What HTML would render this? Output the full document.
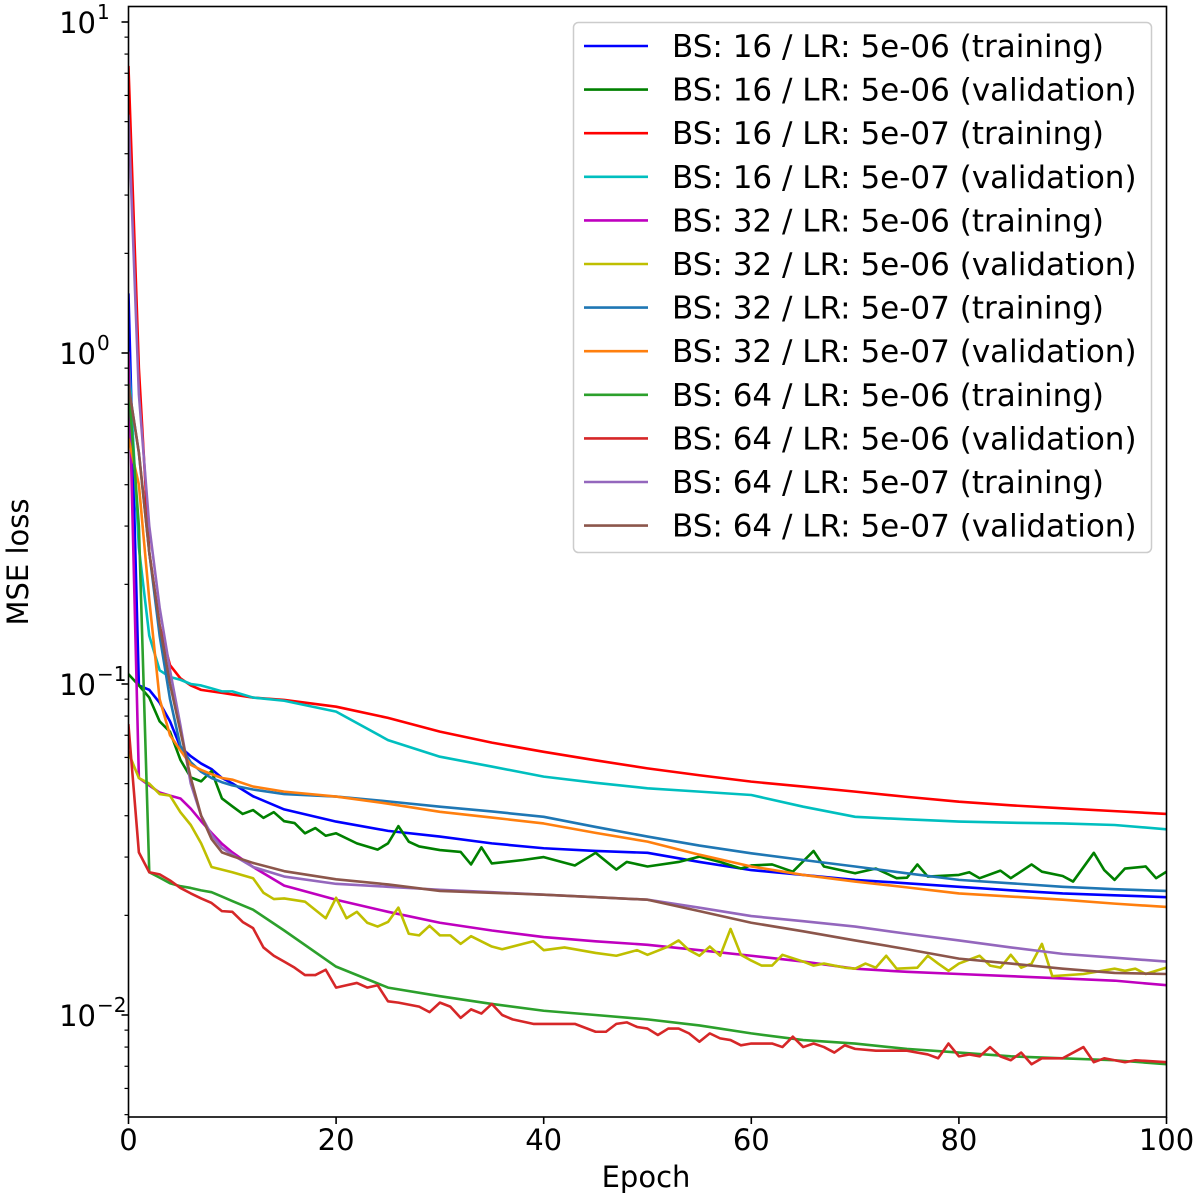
<!DOCTYPE html>
<html><head><meta charset="utf-8"><style>
html,body{margin:0;padding:0;background:#fff;}
svg{display:block;font-family:"DejaVu Sans","Liberation Sans",sans-serif;}
</style></head><body>
<svg id="chart" width="1200" height="1198" viewBox="0 0 1200 1198" xmlns="http://www.w3.org/2000/svg">
<rect x="0" y="0" width="1200" height="1198" fill="#fff"/>
<g id="series"></g>
<g id="axes"></g>
<g id="legend"></g>
</svg>
<script>
// ---- data ----
const xTicks = [0,20,40,60,80,100];
const yDecades = [-2,-1,0,1];
const E_SMOOTH = [0,1,2,3,4,5,6,7,8,9,10,12,15,20,25,30,35,40,45,50,55,60,65,70,75,80,85,90,95,100];
const seriesNames = ["BS: 16 / LR: 5e-06 (training)","BS: 16 / LR: 5e-06 (validation)","BS: 16 / LR: 5e-07 (training)","BS: 16 / LR: 5e-07 (validation)","BS: 32 / LR: 5e-06 (training)","BS: 32 / LR: 5e-06 (validation)","BS: 32 / LR: 5e-07 (training)","BS: 32 / LR: 5e-07 (validation)","BS: 64 / LR: 5e-06 (training)","BS: 64 / LR: 5e-06 (validation)","BS: 64 / LR: 5e-07 (training)","BS: 64 / LR: 5e-07 (validation)"];

const bs16lr6Train = [1.5,0.099,0.096,0.0878,0.0771,0.0645,0.0605,0.0575,0.0553,0.052,0.0501,0.0458,0.0418,0.0384,0.036,0.0346,0.033,0.0319,0.0313,0.0309,0.029,0.0274,0.0265,0.0256,0.025,0.0244,0.0238,0.0233,0.023,0.0227];
const bs16lr6ValEpochs = [0,1,2,3,4,5,6,7,8,9,10,11,12,13,14,15,16,17,18,19,20,22,24,25,26,27,28,30,32,33,34,35,38,40,43,45,47,48,50,53,55,57,59,60,62,64,66,67,70,72,74,75,76,77,80,81,82,84,85,87,88,90,91,93,94,95,96,98,99,100];
const bs16lr6Val = [0.107,0.099,0.091,0.0771,0.0717,0.059,0.0522,0.0508,0.0546,0.0451,0.0427,0.0405,0.0416,0.0394,0.041,0.0385,0.038,0.0354,0.0367,0.0348,0.0354,0.033,0.0316,0.033,0.0372,0.0334,0.0323,0.0315,0.0311,0.0285,0.0321,0.0287,0.0294,0.03,0.0283,0.0309,0.0275,0.029,0.0281,0.029,0.0301,0.029,0.0277,0.0283,0.0285,0.0271,0.0313,0.0281,0.0268,0.0277,0.0259,0.026,0.0285,0.0262,0.0265,0.027,0.0259,0.0273,0.0259,0.0285,0.0271,0.0263,0.0253,0.0309,0.0274,0.0256,0.0277,0.0281,0.0259,0.0271];
const bs16lr7Train = [7.3,0.9,0.25,0.15,0.114,0.104,0.099,0.096,0.095,0.094,0.093,0.091,0.0895,0.0854,0.079,0.0718,0.0665,0.0624,0.0588,0.0556,0.053,0.0507,0.049,0.0473,0.0456,0.0441,0.043,0.0421,0.0413,0.0405];
const bs16lr7Val = [1.0,0.258,0.14,0.11,0.105,0.103,0.1,0.099,0.097,0.095,0.095,0.091,0.089,0.0825,0.0677,0.0603,0.0563,0.0525,0.0503,0.0484,0.0473,0.0462,0.0426,0.0397,0.039,0.0384,0.0381,0.0379,0.0375,0.0364];
const bs32lr6Train = [1.0,0.052,0.0494,0.047,0.046,0.0451,0.042,0.0385,0.0355,0.0329,0.031,0.028,0.0246,0.0223,0.0205,0.019,0.018,0.0172,0.0167,0.0163,0.0157,0.0151,0.0145,0.0138,0.0135,0.0133,0.0131,0.0129,0.0127,0.0123];
const bs32lr6ValEpochs = [0,1,2,3,4,5,6,7,8,10,12,13,14,15,17,19,20,21,22,23,24,25,26,27,28,29,30,31,32,33,35,36,38,39,40,42,45,47,49,50,52,53,54,55,56,57,58,59,60,61,62,63,65,66,67,69,70,71,72,73,74,76,77,78,79,80,82,83,84,85,86,87,88,89,92,95,96,97,98,99,100];
const bs32lr6Val = [0.062,0.052,0.05,0.0465,0.046,0.041,0.0375,0.033,0.028,0.027,0.0259,0.0234,0.0224,0.0225,0.022,0.0196,0.0226,0.0196,0.0205,0.019,0.0185,0.0191,0.0211,0.0176,0.0174,0.0186,0.0174,0.0174,0.0164,0.0173,0.0161,0.0158,0.0164,0.0167,0.0157,0.016,0.0154,0.0151,0.0157,0.0152,0.0161,0.0168,0.0157,0.0151,0.0161,0.0151,0.0182,0.0152,0.0146,0.0141,0.0141,0.0152,0.0145,0.0141,0.0143,0.0139,0.0138,0.0143,0.0139,0.0151,0.0138,0.0139,0.0151,0.0143,0.0136,0.0143,0.0151,0.0141,0.0139,0.0152,0.0139,0.0143,0.0164,0.0131,0.0133,0.0138,0.0136,0.0138,0.0133,0.0136,0.0139];
const bs32lr7Train = [0.8,0.5,0.25,0.14,0.09,0.065,0.058,0.0543,0.052,0.0505,0.0494,0.048,0.0465,0.0457,0.0442,0.0426,0.0412,0.0397,0.037,0.0346,0.0325,0.0308,0.0294,0.0281,0.0268,0.0256,0.025,0.0244,0.024,0.0237];
const bs32lr7Val = [0.55,0.4,0.18,0.09,0.07,0.063,0.057,0.055,0.0534,0.052,0.0514,0.049,0.0473,0.0457,0.0435,0.0411,0.0395,0.0379,0.0355,0.0334,0.0305,0.0281,0.0265,0.0253,0.0243,0.0233,0.0228,0.0223,0.0217,0.0212];
const bs64lr6Train = [0.8,0.3,0.027,0.026,0.025,0.0245,0.0242,0.0238,0.0235,0.0228,0.0221,0.0208,0.018,0.014,0.0121,0.0114,0.0108,0.0103,0.01,0.0097,0.0093,0.0088,0.0084,0.0082,0.0079,0.0077,0.0075,0.0074,0.0073,0.0071];
const bs64lr6ValEpochs = [0,1,2,3,4,5,6,7,8,9,10,11,12,13,14,15,16,17,18,19,20,21,22,23,24,25,26,28,29,30,31,32,33,34,35,36,37,39,41,43,45,46,47,48,49,50,51,52,53,54,55,56,57,58,59,60,62,63,64,65,66,67,68,69,70,72,73,75,77,78,79,80,81,82,83,84,85,86,87,88,89,90,92,93,94,96,97,100];
const bs64lr6Val = [0.075,0.031,0.027,0.0266,0.0255,0.0242,0.0233,0.0225,0.0218,0.0206,0.0205,0.0191,0.0183,0.016,0.0151,0.0145,0.0139,0.0132,0.0132,0.0137,0.0121,0.0123,0.0125,0.0121,0.0123,0.011,0.0109,0.0106,0.0102,0.0109,0.0106,0.0098,0.0104,0.0101,0.0108,0.01,0.0097,0.0094,0.0094,0.0094,0.0089,0.0089,0.0094,0.0095,0.0092,0.0091,0.0087,0.0091,0.0091,0.0088,0.0083,0.0088,0.0085,0.0084,0.0081,0.0082,0.0082,0.008,0.0086,0.008,0.0082,0.008,0.0077,0.0081,0.0079,0.0078,0.0078,0.0078,0.0076,0.0074,0.0082,0.0075,0.0076,0.0075,0.008,0.0075,0.0073,0.0077,0.0071,0.0074,0.0074,0.0074,0.008,0.0072,0.0074,0.0072,0.0073,0.0072];
const bs64lr7Train = [5.2,0.75,0.3,0.17,0.11,0.075,0.05,0.04,0.035,0.032,0.0305,0.028,0.0262,0.0249,0.0244,0.0239,0.0235,0.0231,0.0227,0.0223,0.0211,0.0199,0.0192,0.0185,0.0176,0.0168,0.016,0.0153,0.0149,0.0145];
const bs64lr7Val = [0.8,0.5,0.25,0.15,0.1,0.072,0.052,0.04,0.034,0.031,0.0302,0.0288,0.0272,0.0257,0.0248,0.0237,0.0234,0.0231,0.0227,0.0223,0.0206,0.019,0.0179,0.0168,0.0158,0.0148,0.0143,0.0138,0.0134,0.0133];

const seriesColors = ["#0000ff","#008000","#ff0000","#00bfbf","#bf00bf","#bfbf00","#1f77b4","#ff7f0e","#2ca02c","#d62728","#9467bd","#8c564b"];
const seriesKeys = ["bs16-lr5e-06-training","bs16-lr5e-06-validation","bs16-lr5e-07-training","bs16-lr5e-07-validation","bs32-lr5e-06-training","bs32-lr5e-06-validation","bs32-lr5e-07-training","bs32-lr5e-07-validation","bs64-lr5e-06-training","bs64-lr5e-06-validation","bs64-lr5e-07-training","bs64-lr5e-07-validation"];
const seriesX = [E_SMOOTH,bs16lr6ValEpochs,E_SMOOTH,E_SMOOTH,E_SMOOTH,bs32lr6ValEpochs,E_SMOOTH,E_SMOOTH,E_SMOOTH,bs64lr6ValEpochs,E_SMOOTH,E_SMOOTH];
const seriesY = [bs16lr6Train,bs16lr6Val,bs16lr7Train,bs16lr7Val,bs32lr6Train,bs32lr6Val,bs32lr7Train,bs32lr7Val,bs64lr6Train,bs64lr6Val,bs64lr7Train,bs64lr7Val];

// ---- layout ----
const L=128.5, R=1166.5, T=6.5, B=1117;
const Y0=353, DEC=331;
const X_MIN=0, X_MAX=100;
function xs(v){return L+(v-X_MIN)/(X_MAX-X_MIN)*(R-L);}
function ys(v){return Y0-Math.log10(v)*DEC;}
const NS="http://www.w3.org/2000/svg";
function mk(tag,attrs,parent){const e=document.createElementNS(NS,tag);for(const k in attrs)e.setAttribute(k,attrs[k]);parent.appendChild(e);return e;}

const gS=document.getElementById('series');
const clip=mk('clipPath',{id:'plotclip'},document.getElementById('chart'));
mk('rect',{x:L,y:T,width:R-L,height:B-T},clip);
gS.setAttribute('clip-path','url(#plotclip)');
for(let i=0;i<seriesY.length;i++){
  const pts=seriesY[i].map((v,j)=>xs(seriesX[i][j]).toFixed(2)+','+ys(v).toFixed(2)).join(' ');
  const pl=mk('polyline',{points:pts,fill:'none',stroke:seriesColors[i],'stroke-width':2.6,'stroke-linejoin':'round','stroke-linecap':'square'},gS);
  
  
}

// axes
const gA=document.getElementById('axes');
const frame=mk('rect',{x:L,y:T,width:R-L,height:B-T,fill:'none',stroke:'#000','stroke-width':1.6},gA);


for(const t of xTicks){
  const x=xs(t);
  mk('line',{x1:x,y1:B,x2:x,y2:B+7,stroke:'#000','stroke-width':1.6},gA);
  const tx=mk('text',{x:x,y:1150,'font-size':29,'text-anchor':'middle',fill:'#000'},gA);
  tx.textContent=String(t);
  
  
}
for(const d of yDecades){
  const y=ys(Math.pow(10,d));
  mk('line',{x1:L-7,y1:y,x2:L,y2:y,stroke:'#000','stroke-width':1.6},gA);
  const tx=mk('text',{x:96,y:y+11,'font-size':29,'text-anchor':'end',fill:'#000'},gA);
  tx.textContent='10';
  
  
  const ex=mk('text',{x:97,y:y-3,'font-size':20,'text-anchor':'start',fill:'#000'},gA);
  ex.textContent=(d<0?'\u2212':'')+Math.abs(d);
  
  
}
for(let d=-3;d<=1;d++){
  for(let m=2;m<=9;m++){
    const y=ys(m*Math.pow(10,d));
    if(y<T||y>B)continue;
    mk('line',{x1:L-4,y1:y,x2:L,y2:y,stroke:'#000','stroke-width':1.2},gA);
  }
}
const xt=mk('text',{x:646,y:1187,'font-size':29,'text-anchor':'middle',fill:'#000'},gA);
xt.textContent='Epoch';


const yt=mk('text',{x:0,y:0,'font-size':29,'text-anchor':'middle',fill:'#000',transform:'translate(28,562) rotate(-90)'},gA);
yt.textContent='MSE loss';



// legend
const gL=document.getElementById('legend');


mk('rect',{x:573.5,y:22.5,width:578,height:530,rx:5,ry:5,fill:'#fff','fill-opacity':0.85,stroke:'#cccccc','stroke-width':1.5},gL);
for(let i=0;i<seriesNames.length;i++){
  const y=46+i*43.6;
  const ln=mk('line',{x1:584,y1:y,x2:648,y2:y,stroke:seriesColors[i],'stroke-width':2.6},gL);
  
  
  const tx=mk('text',{x:672,y:y+11,'font-size':31,fill:'#000'},gL);
  tx.textContent=seriesNames[i];
  
  
}
</script>
</body></html>
